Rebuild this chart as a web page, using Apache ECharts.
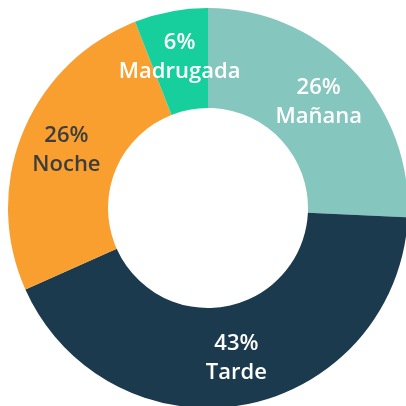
<!DOCTYPE html>
<html>
<head>
<meta charset="utf-8">
<script src="https://cdn.jsdelivr.net/npm/echarts@6/dist/echarts.min.js"></script>
<style>
  html, body { margin: 0; padding: 0; background: #fff; }
  #chart { width: 406px; height: 406px; }
</style>
</head>
<body>
<div id="chart"></div>
<script>
// franjas horarias y su porcentaje
const franjas = ['Mañana', 'Tarde', 'Noche', 'Madrugada']
const porcentajes = [26, 43, 26, 6]
const colores = ['#85C6BF', '#1B3A4E', '#F99F2F', '#17CF9C']
const coloresTexto = ['#ffffff', '#ffffff', '#3D3D3D', '#ffffff']

const chart = echarts.init(document.getElementById('chart'))

const datos = franjas.map((nombre, i) => ({
  name: nombre,
  value: porcentajes[i],
  itemStyle: { color: colores[i] },
  label: { color: coloresTexto[i] }
}))

chart.setOption({
  animation: false,
  series: [
    {
      type: 'pie',
      center: [208, 208],
      radius: [100, 200],
      startAngle: 90,
      clockwise: true,
      avoidLabelOverlap: false,
      labelLine: { show: false },
      label: {
        show: true,
        position: 'inside',
        formatter: '{c}%\n{b}',
        fontFamily: 'Open Sans',
        fontWeight: 600,
        fontSize: 22,
        lineHeight: 29
      },
      emphasis: { disabled: true },
      data: datos
    }
  ]
})
</script>
</body>
</html>
